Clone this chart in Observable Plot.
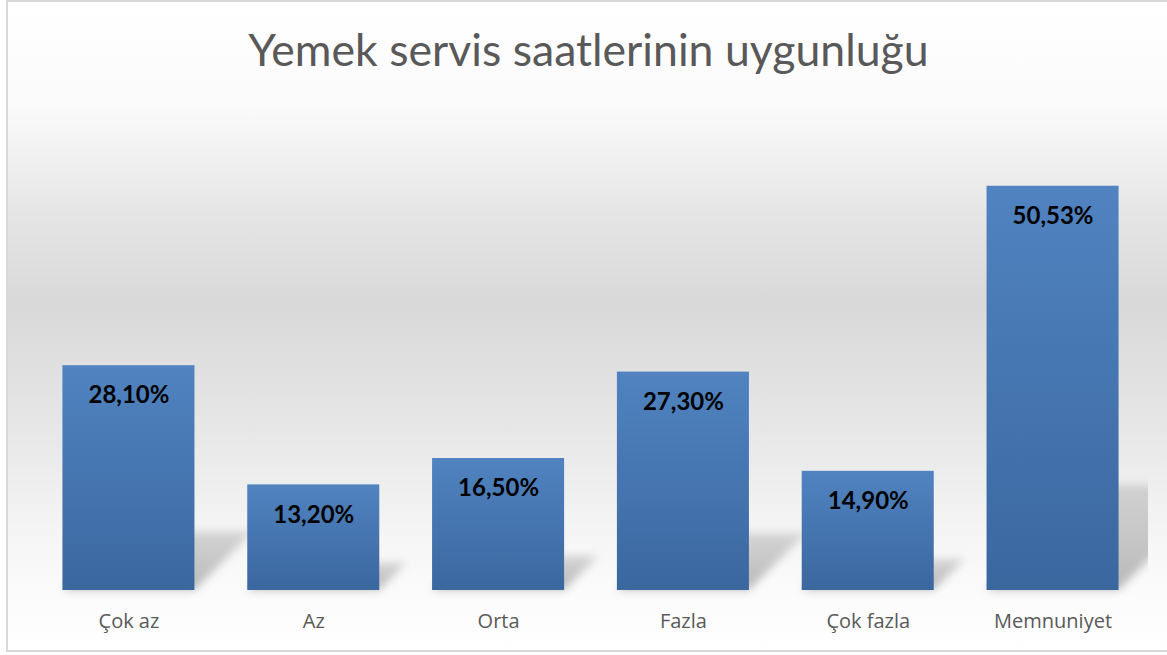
<!DOCTYPE html>
<html>
<head>
<meta charset="utf-8">
<script src="https://cdn.jsdelivr.net/npm/d3@7"></script>
<script src="https://cdn.jsdelivr.net/npm/@observablehq/plot@0.6"></script>
<style>
  html, body { margin: 0; padding: 0; background: #fff; }
  #frame {
    position: absolute; left: 6px; top: 0px; width: 1161px; height: 652px;
    box-sizing: border-box; border: 2px solid #d9d9d9; border-right: none;
    background: linear-gradient(to bottom, #ffffff 0px, #fbfbfb 100px, #e4e4e4 220px, #d9d9d9 300px, #e6e6e6 420px, #f6f6f6 540px, #fcfcfc 600px, #ffffff 652px);
  }
  #title {
    position: absolute; left: 5px; top: 22px; width: 1167px; text-align: center;
    font-family: Lato, "Open Sans", sans-serif; font-size: 44.6px; color: #595959;
  }
  #chart { position: absolute; left: 0; top: 100px; }
</style>
</head>
<body>
<div id="frame"></div>
<div id="title">Yemek servis saatlerinin uygunluğu</div>
<div id="chart"></div>
<script>
const categories = ["Çok az", "Az", "Orta", "Fazla", "Çok fazla", "Memnuniyet"];
const values = [28.10, 13.20, 16.50, 27.30, 14.90, 50.53];

const data = categories.map((c, i) => ({cat: c, value: values[i]}));
const fmt = v => v.toFixed(2).replace(".", ",") + "%";

const shadowMark = Plot.barY(data, {
  x: "cat", y: "value",
  render(index, scales, vals, dims) {
    const g = d3.create("svg:g");
    const y0 = scales.y(0);
    const bw = scales.x.bandwidth();
    g.append("clipPath").attr("id", "shadowClip")
      .append("rect").attr("x", 0).attr("y", 0).attr("width", 1148).attr("height", dims.height);
    const inner = g.append("g").attr("clip-path", "url(#shadowClip)");
    for (const i of index) {
      const xl = scales.x(data[i].cat);
      const xr = xl + bw;
      const h = y0 - scales.y(data[i].value);
      const r = 0.26 * h;
      inner.append("polygon")
        .attr("points", `${xl},${y0} ${xr},${y0} ${xr + r},${y0 - r} ${xl + r},${y0 - r}`)
        .attr("fill", "url(#shadowGrad)")
        .attr("filter", "url(#shadowBlur)");
    }
    return g.node();
  }
});

const chart = Plot.plot({
  width: 1167,
  height: 555,
  marginLeft: 36,
  marginRight: 22,
  marginTop: 50,
  marginBottom: 65,
  style: {background: "transparent", fontFamily: "Lato, 'Open Sans', sans-serif", overflow: "visible"},
  x: {domain: categories, paddingInner: 0.2857, paddingOuter: 0.143, round: false, label: null},
  y: {domain: [0, 55], axis: null},
  marks: [
    shadowMark,
    Plot.barY(data, {x: "cat", y: "value", fill: "url(#barGrad)"}),
    Plot.text(data, {x: "cat", y: "value", text: d => fmt(d.value), dy: 30,
      fontSize: 24, fontWeight: "bold", fill: "#000"}),
    Plot.axisX({tickSize: 0, tickPadding: 23, fontSize: 20, fontFamily: "'Open Sans', sans-serif", color: "#595959", label: null})
  ]
});

const defs = d3.select(chart).insert("defs", ":first-child");
const bg = defs.append("linearGradient").attr("id", "barGrad")
  .attr("x1", 0).attr("y1", 0).attr("x2", 0).attr("y2", 1);
bg.append("stop").attr("offset", "0%").attr("stop-color", "#5083c0");
bg.append("stop").attr("offset", "100%").attr("stop-color", "#3b679f");
const sg = defs.append("linearGradient").attr("id", "shadowGrad")
  .attr("x1", 0).attr("y1", 1).attr("x2", 0).attr("y2", 0);
sg.append("stop").attr("offset", "0%").attr("stop-color", "#b0b0b0").attr("stop-opacity", 0.9);
sg.append("stop").attr("offset", "100%").attr("stop-color", "#bdbdbd").attr("stop-opacity", 0.6);
const f = defs.append("filter").attr("id", "shadowBlur")
  .attr("x", "-30%").attr("y", "-30%").attr("width", "160%").attr("height", "160%");
f.append("feGaussianBlur").attr("stdDeviation", 4);

document.getElementById("chart").appendChild(chart);
</script>
</body>
</html>
